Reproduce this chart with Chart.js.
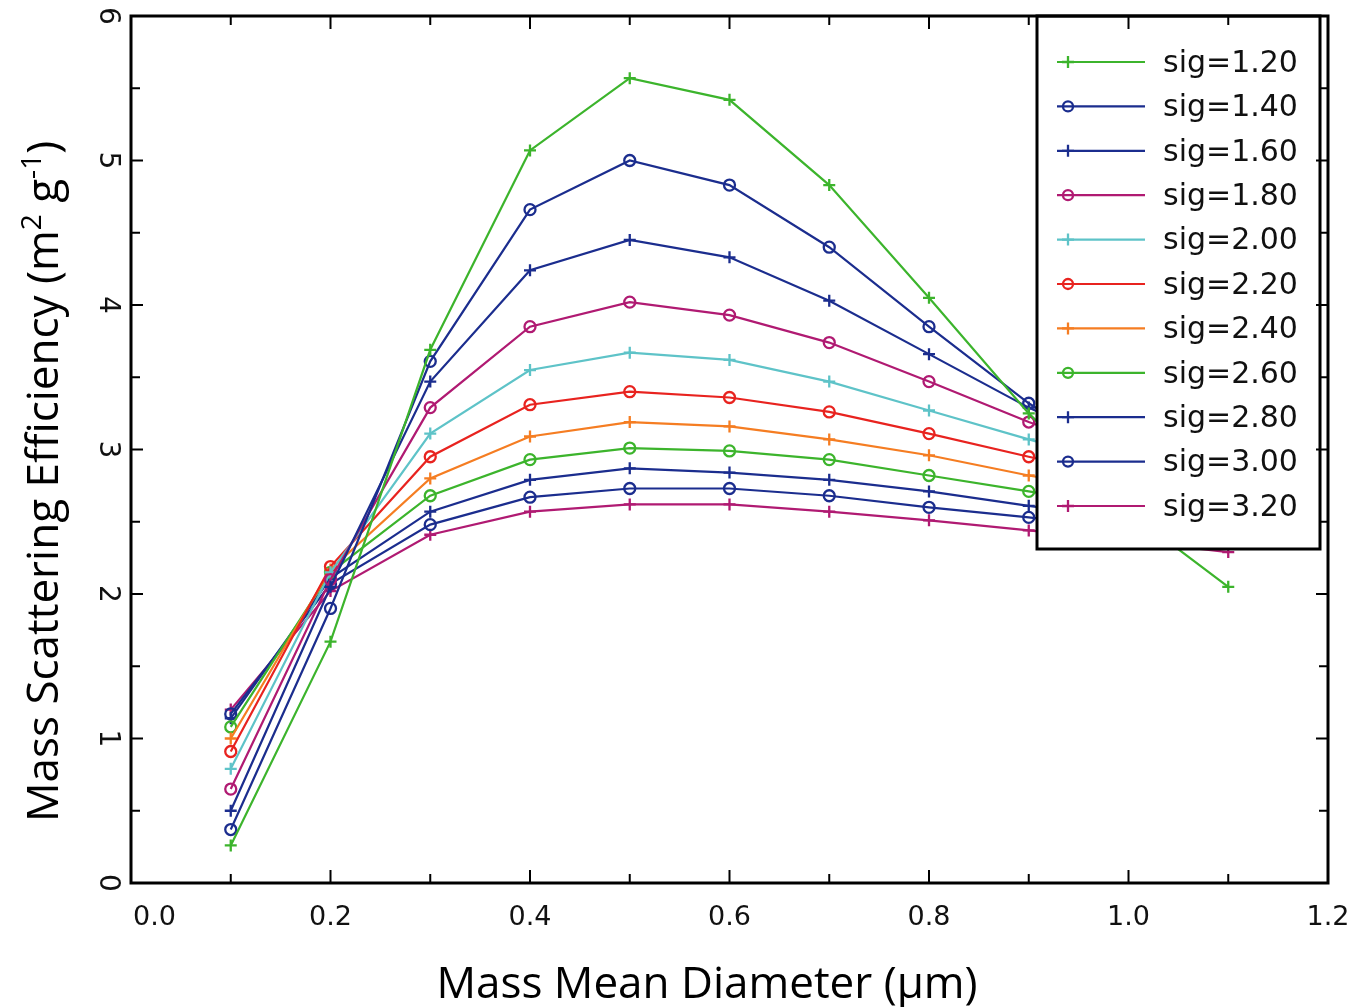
<!DOCTYPE html>
<html>
<head>
<meta charset="utf-8">
<script src="https://cdn.jsdelivr.net/npm/chart.js@4.4.1/dist/chart.umd.min.js"></script>
<style>
html,body{margin:0;padding:0;background:#fff;}
#wrap{width:1358px;height:1007px;position:relative;}
</style>
</head>
<body>
<div id="wrap"><canvas id="c"></canvas></div>
<script>
// ---- data ----
const xValues = [0.1, 0.2, 0.3, 0.4, 0.5, 0.6, 0.7, 0.8, 0.9, 1.0, 1.1];
const seriesLabels = ['sig=1.20','sig=1.40','sig=1.60','sig=1.80','sig=2.00','sig=2.20','sig=2.40','sig=2.60','sig=2.80','sig=3.00','sig=3.20'];
const sig120 = [0.26, 1.67, 3.69, 5.07, 5.57, 5.42, 4.83, 4.05, 3.25, 2.57, 2.05];
const sig140 = [0.37, 1.90, 3.61, 4.66, 5.00, 4.83, 4.40, 3.85, 3.32, 2.88, 2.50];
const sig160 = [0.50, 2.05, 3.47, 4.24, 4.45, 4.33, 4.03, 3.66, 3.29, 2.97, 2.66];
const sig180 = [0.65, 2.10, 3.29, 3.85, 4.02, 3.93, 3.74, 3.47, 3.19, 2.95, 2.72];
const sig200 = [0.79, 2.15, 3.11, 3.55, 3.67, 3.62, 3.47, 3.27, 3.07, 2.88, 2.70];
const sig220 = [0.91, 2.19, 2.95, 3.31, 3.40, 3.36, 3.26, 3.11, 2.95, 2.80, 2.65];
const sig240 = [1.00, 2.17, 2.80, 3.09, 3.19, 3.16, 3.07, 2.96, 2.82, 2.70, 2.57];
const sig260 = [1.08, 2.15, 2.68, 2.93, 3.01, 2.99, 2.93, 2.82, 2.71, 2.60, 2.50];
const sig280 = [1.14, 2.11, 2.57, 2.79, 2.87, 2.84, 2.79, 2.71, 2.61, 2.52, 2.42];
const sig300 = [1.17, 2.07, 2.48, 2.67, 2.73, 2.73, 2.68, 2.60, 2.53, 2.45, 2.36];
const sig320 = [1.20, 2.02, 2.41, 2.57, 2.62, 2.62, 2.57, 2.51, 2.44, 2.37, 2.29];
const xTickLabels = ['0.0','0.2','0.4','0.6','0.8','1.0','1.2'];
const yTickLabels = ['0','1','2','3','4','5','6'];

const seriesValues = [sig120, sig140, sig160, sig180, sig200, sig220, sig240, sig260, sig280, sig300, sig320];

// ---- styles ----
const GREEN = '#3cb42c', NAVY = '#1b2d8e', MAGENTA = '#b01a72', CYAN = '#5ec3c8', RED = '#e8231f', ORANGE = '#f57d22';
const seriesColors = [GREEN, NAVY, NAVY, MAGENTA, CYAN, RED, ORANGE, GREEN, NAVY, NAVY, MAGENTA];
const seriesMarks = ['cross','circle','cross','circle','cross','circle','cross','circle','cross','circle','cross'];

const datasets = seriesValues.map((vals, i) => ({
  label: seriesLabels[i],
  data: xValues.map((x, j) => ({x: x, y: vals[j]})),
  borderColor: seriesColors[i],
  backgroundColor: 'rgba(0,0,0,0)',
  pointBorderColor: seriesColors[i],
  pointBackgroundColor: 'rgba(0,0,0,0)',
  pointStyle: seriesMarks[i],
  pointRadius: seriesMarks[i] === 'cross' ? 6 : 5.5,
  pointBorderWidth: 2.3,
  borderWidth: 2.2,
  tension: 0,
  fill: false
}));

function drawMark(ctx, style, color, x, y) {
  ctx.save();
  ctx.strokeStyle = color;
  ctx.lineWidth = 2.3;
  ctx.beginPath();
  if (style === 'cross') {
    ctx.moveTo(x - 6, y); ctx.lineTo(x + 6, y);
    ctx.moveTo(x, y - 6); ctx.lineTo(x, y + 6);
  } else {
    ctx.arc(x, y, 5, 0, Math.PI * 2);
  }
  ctx.stroke();
  ctx.restore();
}

const framePlugin = {
  id: 'frame',
  afterDatasetsDraw(chart) {
    const ctx = chart.ctx;
    const ca = chart.chartArea;
    const xs = chart.scales.x, ys = chart.scales.y;
    ctx.save();

    // legend box
    const lx0 = 1037, ly0 = ca.top, lx1 = 1320, ly1 = 549;
    ctx.fillStyle = '#fff';
    ctx.fillRect(lx0, ly0, lx1 - lx0, ly1 - ly0);
    ctx.strokeStyle = '#000';
    ctx.lineWidth = 3;
    ctx.strokeRect(lx0, ly0, lx1 - lx0, ly1 - ly0);
    ctx.font = '30px "DejaVu Sans"';
    ctx.textBaseline = 'middle';
    ctx.textAlign = 'left';
    seriesLabels.forEach((lab, i) => {
      const y = 62 + i * 44.4;
      ctx.strokeStyle = seriesColors[i];
      ctx.lineWidth = 2.2;
      ctx.beginPath(); ctx.moveTo(1057, y); ctx.lineTo(1145, y); ctx.stroke();
      drawMark(ctx, seriesMarks[i], seriesColors[i], 1068, y);
      ctx.fillStyle = '#111';
      ctx.fillText(lab, 1163, y + 2);
    });

    // ticks (inside, mirrored)
    ctx.strokeStyle = '#000';
    ctx.lineWidth = 2;
    xs.ticks.forEach((t) => {
      const px = xs.getPixelForValue(t.value);
      const major = Math.round(t.value * 10) % 2 === 0;
      const len = major ? 13 : 9;
      ctx.beginPath();
      ctx.moveTo(px, ca.bottom); ctx.lineTo(px, ca.bottom - len);
      ctx.moveTo(px, ca.top); ctx.lineTo(px, ca.top + len);
      ctx.stroke();
    });
    ys.ticks.forEach((t) => {
      const py = ys.getPixelForValue(t.value);
      const major = Math.abs(t.value - Math.round(t.value)) < 1e-6;
      const len = major ? 12 : 9;
      ctx.beginPath();
      ctx.moveTo(ca.left, py); ctx.lineTo(ca.left + len, py);
      ctx.moveTo(ca.right, py); ctx.lineTo(ca.right - len, py);
      ctx.stroke();
    });

    // frame
    ctx.lineWidth = 3;
    ctx.strokeRect(ca.left, ca.top, ca.right - ca.left, ca.bottom - ca.top);

    // x tick labels
    ctx.fillStyle = '#111';
    ctx.font = '27px "DejaVu Sans"';
    ctx.textBaseline = 'middle';
    xTickLabels.forEach((lab, i) => {
      const px = xs.getPixelForValue(parseFloat(lab));
      if (i === 0) { ctx.textAlign = 'left'; ctx.fillText(lab, px + 2, 918); }
      else { ctx.textAlign = 'center'; ctx.fillText(lab, px, 918); }
    });

    // y tick labels (rotated clockwise)
    ctx.font = '28px "DejaVu Sans"';
    yTickLabels.forEach((lab) => {
      const py = ys.getPixelForValue(parseFloat(lab));
      ctx.save();
      ctx.translate(107, py);
      ctx.rotate(Math.PI / 2);
      ctx.textAlign = 'center';
      ctx.textBaseline = 'middle';
      ctx.fillText(lab, 0, 0);
      ctx.restore();
    });

    // x title
    ctx.font = '44px "Open Sans"';
    ctx.textAlign = 'center';
    ctx.textBaseline = 'alphabetic';
    ctx.fillStyle = '#000';
    ctx.fillText('Mass Mean Diameter (\u03bcm)', 707, 998);

    // y title with superscripts
    ctx.save();
    ctx.translate(58, 822);
    ctx.rotate(-Math.PI / 2);
    ctx.textAlign = 'left';
    ctx.textBaseline = 'alphabetic';
    const big = '44px "Open Sans"', small = '28px "Open Sans"';
    const parts = [
      ['Mass Scattering Efficiency (m', big, 0],
      ['2', small, -17],
      [' g', big, 0],
      ['-1', small, -17],
      [')', big, 0]
    ];
    let xoff = 0;
    parts.forEach(([txt, f, dy]) => {
      ctx.font = f;
      ctx.fillText(txt, xoff, dy);
      xoff += ctx.measureText(txt).width;
    });
    ctx.restore();

    ctx.restore();
  }
};

new Chart(document.getElementById('c'), {
  type: 'line',
  data: { datasets: datasets },
  options: {
    responsive: true,
    maintainAspectRatio: false,
    animation: false,
    events: [],
    layout: { padding: { left: 0, right: 30, top: 16, bottom: 0 } },
    plugins: { legend: { display: false }, tooltip: { enabled: false } },
    scales: {
      x: {
        type: 'linear', min: 0, max: 1.2,
        ticks: { stepSize: 0.1, display: false },
        grid: { display: false },
        border: { display: false },
        afterFit: (s) => { s.height = 124; }
      },
      y: {
        type: 'linear', min: 0, max: 6,
        ticks: { stepSize: 0.5, display: false },
        grid: { display: false },
        border: { display: false },
        afterFit: (s) => { s.width = 131; }
      }
    }
  },
  plugins: [framePlugin]
});
</script>
</body>
</html>
